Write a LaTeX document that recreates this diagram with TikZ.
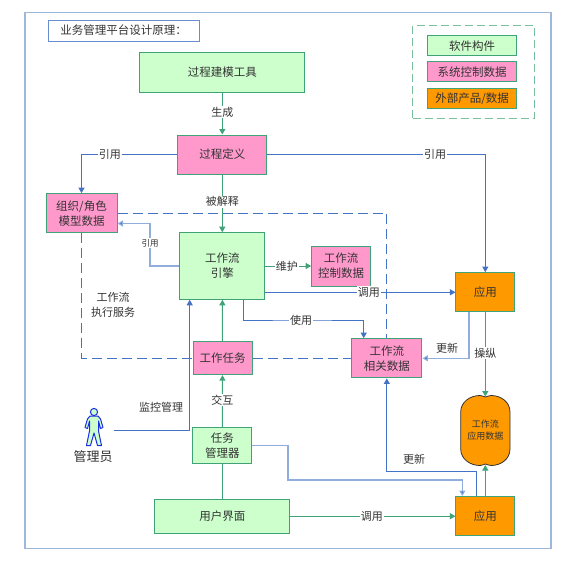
\documentclass[tikz,border=0pt]{standalone}
\usepackage{fontspec}
\setmainfont{Noto Sans CJK SC}
\usetikzlibrary{arrows.meta, calc}
\definecolor{softgreen}{HTML}{CCFFCC}
\definecolor{softpink}{HTML}{FF99CC}
\definecolor{softorange}{HTML}{FF9900}
\definecolor{edgegreen}{HTML}{3FA377}
\definecolor{edgeblue}{HTML}{4472C4}
\definecolor{paleblue}{HTML}{9DB7DF}
\definecolor{inkgray}{HTML}{333333}
\tikzset{
  basebox/.style={draw=edgegreen,line width=1pt,inner sep=0pt,align=center,text=inkgray,font=\fontsize{11.5}{15}\selectfont},
  softbox/.style={basebox,fill=softgreen},
  ctrlbox/.style={basebox,fill=softpink},
  extbox/.style={basebox,fill=softorange},
  greenline/.style={draw=edgegreen,line width=1pt,-{Triangle[length=5.5pt,width=6pt]}},
  greenplain/.style={draw=edgegreen,line width=1pt},
  blueline/.style={draw=edgeblue,line width=1pt,-{Triangle[length=5.5pt,width=6pt]}},
  paleline/.style={draw=paleblue!85!edgeblue,line width=1.1pt,-{Triangle[length=5.5pt,width=6pt,fill=edgeblue]}},
  servline/.style={draw=edgeblue,line width=1pt,dash pattern=on 10pt off 5pt},
  tag/.style={fill=white,inner sep=1pt,text=inkgray,font=\fontsize{11}{14}\selectfont},
  plaintag/.style={text=inkgray,inner sep=0pt,align=center,font=\fontsize{11}{15}\selectfont},
}
\begin{document}
\begin{tikzpicture}[x=1pt,y=-1pt]
  \useasboundingbox (0,0) rectangle (577,562);
  % outer frame and title
  \node[draw=paleblue,line width=1.5pt,minimum width=526pt,minimum height=536pt,inner sep=0pt] (frame) at (288,280.5) {};
  \node[draw=edgeblue!80,line width=1pt,minimum width=151pt,minimum height=21pt,inner sep=0pt,text=inkgray,font=\fontsize{11.5}{14}\selectfont] (title) at (123.7,30.5) {业务管理平台设计原理：};
  % legend
  \node[draw=edgegreen!70,line width=1pt,dash pattern=on 8pt off 4pt,minimum width=121.6pt,minimum height=92.6pt,inner sep=0pt] (legend) at (473.5,72) {};
  \foreach \nm/\sty/\yy/\txt in {legsoft/softbox/45.8/{软件构件}, legctrl/ctrlbox/71.8/{系统控制数据}, legext/extbox/98.3/{外部产品/数据}} {
    \node[\sty,minimum width=89.4pt,minimum height=19.8pt] (\nm) at (472,\yy) {\txt};
  }
  % main boxes
  \node[softbox,minimum width=164.7pt,minimum height=40pt] (tool) at (222.3,72) {过程建模工具};
  \node[ctrlbox,minimum width=88.7pt,minimum height=39pt] (def) at (222.3,154.5) {过程定义};
  \node[ctrlbox,minimum width=71pt,minimum height=39.3pt] (org) at (81.5,213.3) {组织/角色\\模型数据};
  \node[softbox,minimum width=84.7pt,minimum height=66.6pt] (engine) at (222.3,266) {工作流\\引擎};
  \node[ctrlbox,minimum width=58.6pt,minimum height=40pt] (ctrl) at (341,266) {工作流\\控制数据};
  \node[extbox,minimum width=58.7pt,minimum height=39.3pt] (appa) at (485.3,292.3) {应用};
  \node[ctrlbox,minimum width=59pt,minimum height=32.7pt] (task) at (222.5,358.3) {工作任务};
  \node[ctrlbox,minimum width=70.3pt,minimum height=39.3pt] (rel) at (386.8,358.3) {工作流\\相关数据};
  \node[softbox,minimum width=59pt,minimum height=36pt] (mgr) at (222.3,445.3) {任务\\管理器};
  \node[softbox,minimum width=135.3pt,minimum height=34.3pt] (ui) at (222.3,516.2) {用户界面};
  \node[extbox,minimum width=58.7pt,minimum height=39.3pt] (appb) at (485.3,516.2) {应用};
  % application data drum
  \filldraw[fill=softorange,draw=black!80,line width=0.8pt] (460.7,412) .. controls (460.7,402) and (470,395.5) .. (480,395.5) .. controls (483,395.5) and (484,397) .. (485.3,397) .. controls (487,397) and (488,395.5) .. (491,395.5) .. controls (501,395.5) and (510,402) .. (510,412) -- (510,449) .. controls (510,459) and (501,465.5) .. (491,465.5) .. controls (488,465.5) and (487,464) .. (485.3,464) .. controls (484,464) and (483,465.5) .. (480,465.5) .. controls (470,465.5) and (460.7,459) .. (460.7,449) -- cycle;
  \node[inner sep=0pt,align=center,text=inkgray,font=\fontsize{9}{12}\selectfont] (drum) at (485.3,430.5) {工作流\\应用数据};
  \coordinate (drumtop) at (485.3,396.5);
  \coordinate (drumbot) at (485.3,465);
  % administrator figure
  \filldraw[fill=softgreen,draw=blue!60!edgeblue,line width=1pt] (94,412) circle (3.6);
  \filldraw[fill=softgreen,draw=blue!60!edgeblue,line width=1pt,line join=round]
    (90,416) -- (98,416) -- (100.5,419) -- (103,427.5) -- (100.5,428.5) -- (98.5,421) -- (98.5,431)
    -- (101.5,445.5) -- (97.5,445.5) -- (94,433) -- (90.5,445.5) -- (86.5,445.5) -- (89.5,431)
    -- (89.5,421) -- (87.5,428.5) -- (85,427.5) -- (87.5,419) -- cycle;
  \coordinate (adminhand) at (114,430.7);
  \node[inner sep=0pt,text=inkgray,font=\fontsize{13}{16}\selectfont] (adminlab) at (93,457) {管理员};
  % service boundary
  \draw[servline] (org.east) -- (386.8,213.3) -- (rel.north);
  \draw[servline] (org.south) |- (task.west);
  \draw[servline] (task.east) -- (rel.west);
  % green connectors
  \draw[greenline] (tool) -- node[tag,pos=0.47] (lgen) {生成} (def);
  \draw[greenline] (def) -- node[tag,pos=0.47] (lexp) {被解释} (engine);
  \draw[greenline] (engine.east |- ctrl.west) -- node[tag,pos=0.47] (lmnt) {维护} (ctrl.west);
  \draw[greenline] (task) -- (engine);
  \draw[greenline] (mgr) -- node[tag,pos=0.52] (lint) {交互} (task);
  \draw[greenplain] (ui) -- (mgr);
  \draw[greenline] (ui) -- node[tag,pos=0.494] (lcallb) {调用} (appb);
  \draw[greenline] (appa) -- node[tag,pos=0.485] (lop) {操纵} (drumtop);
  \draw[greenline] (appb) -- (drumbot);
  % blue connectors
  \draw[blueline] (def.west) -| (org.north) node[tag,pos=0.352] (lrefa) {引用};
  \draw[blueline] (def.east) -| (appa.north) node[tag,pos=0.385] (lrefb) {引用};
  \draw[paleline] (engine.west) -- (150,266) |- ([yshift=-10.2pt]org.east) node[pos=0.27,fill=white,inner sep=1pt,text=inkgray,font=\fontsize{8.5}{10}\selectfont] (lrefc) {引用};
  \draw[blueline] ([yshift=-26.3pt]engine.east) -- node[tag,pos=0.545] (lcalla) {调用} (appa.west);
  \draw[blueline] ([xshift=21.2pt]engine.south) |- (301,320) -- node[tag,pos=0] (luse) {使用} (363.7,320) -- ([xshift=-23.1pt]rel.north);
  \draw[paleline] ([xshift=-16.3pt]appa.south) |- (rel.east);
  \draw[blueline] (adminhand) -| ([xshift=-32.6pt]engine.south);
  \draw[blueline] ([xshift=-9pt]appb.north) |- (386.8,471.7) -- (rel.south);
  \draw[paleline] (mgr.east) -- (288,445.3) |- (462.3,480) -- ([xshift=-23pt]appb.north);
  % free labels
  \node[plaintag] (lupa) at (447,348) {更新};
  \node[plaintag] (lupb) at (414,459) {更新};
  \node[plaintag] (lmon) at (161,407) {监控管理};
  \node[plaintag] (lserv) at (113,305) {工作流\\执行服务};
\end{tikzpicture}
\end{document}
